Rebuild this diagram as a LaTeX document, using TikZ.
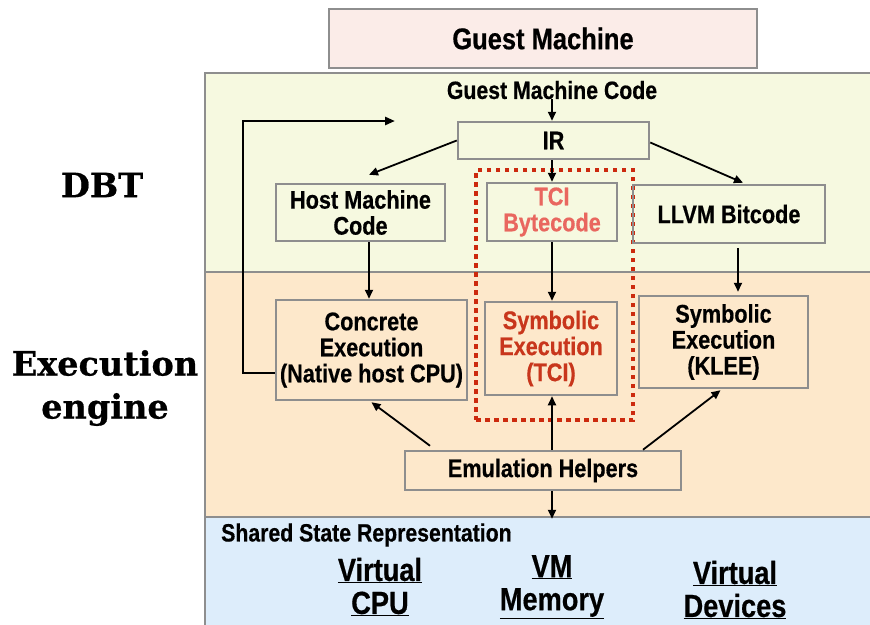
\documentclass[tikz,border=0pt]{standalone}
\usepackage{fontspec}
\setmainfont{Liberation Sans}[FakeStretch=0.85, BoldFeatures={FakeBold=0.5}]
\newfontfamily\labelfont{DejaVu Serif}[BoldFeatures={FakeBold=0.6}]
\usetikzlibrary{arrows.meta}
\definecolor{gmfill}{HTML}{FBECE8}
\definecolor{dbtfill}{HTML}{F6F9E0}
\definecolor{exfill}{HTML}{FDE8CB}
\definecolor{shfill}{HTML}{DDEDFB}
\definecolor{bordergray}{HTML}{8E8E8E}
\definecolor{tcilight}{HTML}{E9675F}
\definecolor{tcidark}{HTML}{C8361C}
\definecolor{dotred}{HTML}{CC2A0E}
\tikzset{
  region/.style={draw=bordergray, line width=2.5pt, inner sep=0pt},
  box/.style={draw=bordergray, line width=2.5pt, inner sep=0pt, align=center,
    font=\bfseries\fontsize{25.5}{26}\selectfont},
  plain/.style={inner sep=0pt, align=center, font=\bfseries\fontsize{25}{26}\selectfont},
  big/.style={inner sep=0pt, align=center, font=\bfseries\fontsize{32}{33}\selectfont},
  side/.style={inner sep=0pt, align=center, font=\labelfont\bfseries\fontsize{33.5}{43}\selectfont},
  arr/.style={line width=1.8pt, -{Triangle[length=9pt,width=8pt]}},
  fb/.style={line width=2.5pt, -{Triangle[length=10pt,width=8pt]}},
}
\begin{document}
\begin{tikzpicture}[x=1pt,y=-1pt]
\useasboundingbox (0,0) rectangle (870,624);
\clip (0,0) rectangle (870,624);
% regions
\node[region, fill=dbtfill, minimum width=690pt, minimum height=199pt] (dbt) at (550,172.5) {};
\node[region, fill=exfill, minimum width=690pt, minimum height=245pt] (exe) at (550,394.5) {};
\node[region, fill=shfill, minimum width=690pt, minimum height=130pt] (shared) at (550,582) {};
% guest machine
\node[box, fill=gmfill, minimum width=428pt, minimum height=59pt, font=\bfseries\fontsize{30}{31}\selectfont] (gm) at (543,38.5) {Guest Machine};
% side labels
\node[side] (dbtlbl) at (102,185) {DBT};
\node[side] (exlbl) at (105,388) {Execution\\engine};
% dotted group
\node[draw=dotred, line width=4.5pt, dash pattern=on 4.5pt off 4.5pt, minimum width=157pt, minimum height=250pt, inner sep=0pt] (grp) at (554.5,295) {};
% texts and boxes
\node[plain] (gmc) at (552,90) {Guest Machine Code};
\node[box, minimum width=191pt, minimum height=37pt] (ir) at (553.5,140.5) {IR};
\node[box, minimum width=169pt, minimum height=57pt] (host) at (360.5,212.5) {Host Machine\\Code};
\node[box, minimum width=130pt, minimum height=58pt, text=tcilight] (tci) at (552,212) {TCI\\Bytecode};
\node[box, minimum width=192pt, minimum height=58pt] (llvm) at (729,214) {LLVM Bitcode};
\node[box, minimum width=191pt, minimum height=100pt] (conc) at (371.5,350) {Concrete\\Execution\\(Native host CPU)};
\node[box, minimum width=132pt, minimum height=93pt, text=tcidark] (symtci) at (551,348.5) {Symbolic\\Execution\\(TCI)};
\node[box, minimum width=169pt, minimum height=92pt] (klee) at (723.5,342) {Symbolic\\Execution\\(KLEE)};
\node[box, minimum width=276pt, minimum height=39pt] (emu) at (543,470.5) {Emulation Helpers};
\node[plain, anchor=west] (ssr) at (221,535) {Shared State Representation};
\node[big] (vcpu) at (380,587) {\underline{Virtual}\\\underline{CPU}};
\node[big] (vmem) at (552,587) {\underline{VM}\\\underline{Memory}};
\node[big] (vdev) at (735,590) {\underline{Virtual}\\\underline{Devices}};
% feedback loop
\coordinate (fbk) at (243,121);
\coordinate (fbkend) at (395,121);
\draw[fb] ([yshift=-23pt]conc.west) -| (fbk) -- (fbkend);
% arrows
\draw[arr] (gmc.south -| ir.north) ++(-1.5pt,0) -- ([xshift=-1.5pt]ir.north);
\draw[arr] (ir.west) -- ([xshift=8.5pt,yshift=8pt]host.north);
\draw[arr] ([xshift=-1.5pt]ir.south) -- (tci.north);
\draw[arr] ([yshift=-2pt]ir.east) -- ([xshift=14pt,yshift=1pt]llvm.north);
\draw[arr] ([xshift=8.5pt]host.south) -- ([xshift=8.5pt]host.south |- conc.north);
\draw[arr] (tci.south) -- (tci.south |- symtci.north);
\draw[arr] ([xshift=9pt,yshift=-4pt]llvm.south) -- ([xshift=9pt,yshift=3pt]llvm.south |- klee.north);
\draw[arr] ([xshift=-113pt,yshift=4pt]emu.north) -- ([yshift=-1pt]conc.south);
\draw[arr] ([xshift=9pt]emu.north) -- ([xshift=9pt]emu.north |- symtci.south);
\draw[arr] ([xshift=100pt]emu.north) -- ([xshift=-3pt,yshift=-1pt]klee.south);
\draw[arr] ([xshift=9pt]emu.south) -- ([xshift=9pt,yshift=-3pt]emu.south |- shared.north);
\end{tikzpicture}
\end{document}
